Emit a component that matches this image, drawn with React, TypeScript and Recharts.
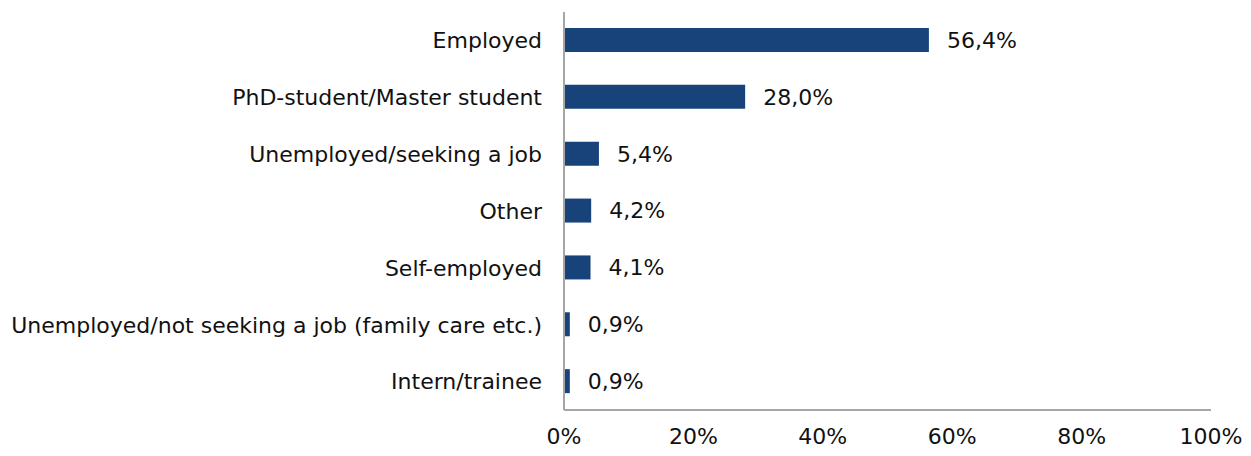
import { BarChart, Bar, XAxis, YAxis, LabelList } from "recharts";

const categories = [
  "Employed",
  "PhD-student/Master student",
  "Unemployed/seeking a job",
  "Other",
  "Self-employed",
  "Unemployed/not seeking a job (family care etc.)",
  "Intern/trainee",
];
const shares = [56.4, 28.0, 5.4, 4.2, 4.1, 0.9, 0.9];
const xTicks = [0, 20, 40, 60, 80, 100];

const data = categories.map((name, i) => ({ name, value: shares[i] }));

const font = "'DejaVu Sans', sans-serif";
const axisColor = "#a6a6a6";

export default function App() {
  return (
    <div style={{ position: "absolute", left: 0, top: 0, background: "#fff" }}>
      <BarChart
        width={1251}
        height={456}
        data={data}
        layout="vertical"
        margin={{ top: 12, right: 40, bottom: 0, left: 0 }}
      >
        <XAxis
          type="number"
          domain={[0, 100]}
          ticks={xTicks}
          tickFormatter={(v: number) => `${v}%`}
          stroke={axisColor}
          axisLine={{ stroke: axisColor, strokeWidth: 2 }}
          tickLine={false}
          tickSize={0}
          tickMargin={18}
          height={46}
          tick={{ fill: "#111", fontSize: 22, fontFamily: font }}
        />
        <YAxis
          type="category"
          dataKey="name"
          width={564}
          axisLine={{ stroke: axisColor, strokeWidth: 2 }}
          tickLine={false}
          tickSize={0}
          tickMargin={22}
          interval={0}
          tick={{ fill: "#111", fontSize: 22, fontFamily: font }}
        />
        <Bar dataKey="value" fill="#17437a" barSize={24} isAnimationActive={false}>
          <LabelList
            dataKey="value"
            position="right"
            offset={18}
            formatter={(v: number) => `${v.toFixed(1).replace(".", ",")}%`}
            style={{ fill: "#111", fontSize: 22, fontFamily: font }}
          />
        </Bar>
      </BarChart>
    </div>
  );
}
